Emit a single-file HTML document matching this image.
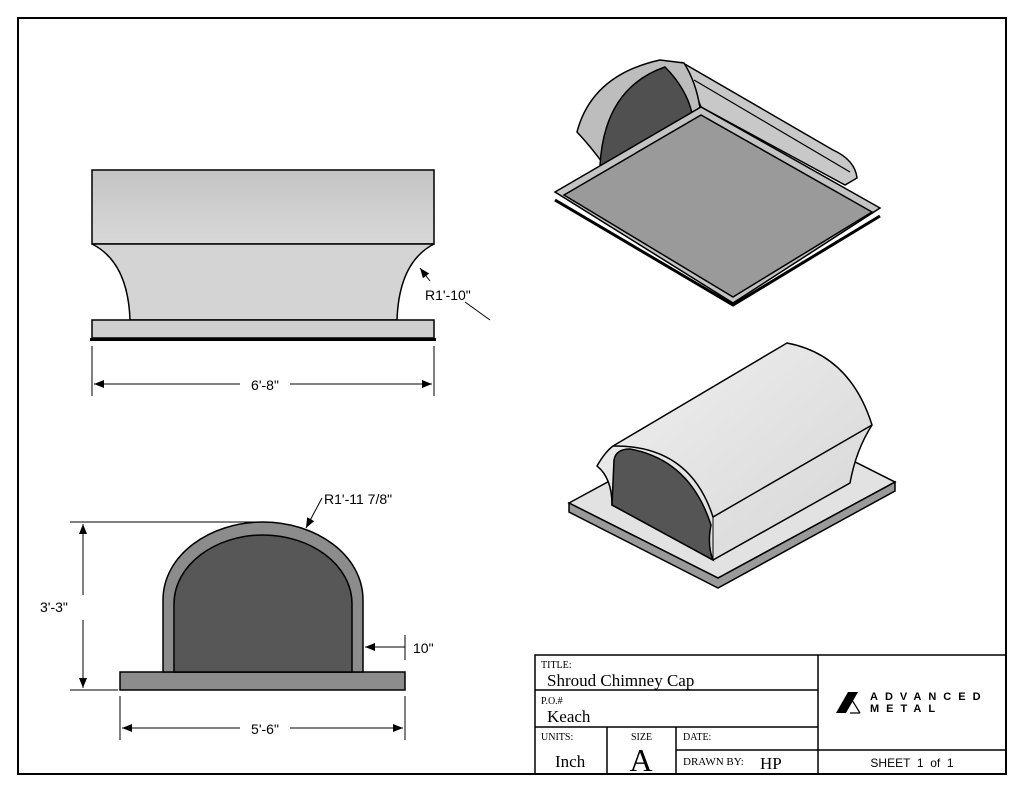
<!DOCTYPE html>
<html><head><meta charset="utf-8"><style>
body{margin:0;background:#fff}
svg{display:block}
text{font-family:"Liberation Sans",sans-serif}
.s{font-family:"Liberation Serif",serif}
</style></head><body>
<svg width="1024" height="794" viewBox="0 0 1024 794" xmlns="http://www.w3.org/2000/svg">
<defs>
<linearGradient id="g1" x1="0" y1="0" x2="0" y2="1"><stop offset="0" stop-color="#c4c4c4"/><stop offset="1" stop-color="#d8d8d8"/></linearGradient>
<linearGradient id="g2" x1="0" y1="0" x2="1" y2="1"><stop offset="0" stop-color="#f0f0f0"/><stop offset="1" stop-color="#d6d6d6"/></linearGradient>
<marker id="a" markerWidth="10" markerHeight="8" refX="10" refY="4" orient="auto" markerUnits="userSpaceOnUse"><path d="M0,0 L10,4 L0,8 z" fill="#000"/></marker>
<marker id="b" markerWidth="10" markerHeight="8" refX="0" refY="4" orient="auto" markerUnits="userSpaceOnUse"><path d="M10,0 L0,4 L10,8 z" fill="#000"/></marker>
</defs>
<rect x="18" y="18" width="988" height="756" fill="none" stroke="#000" stroke-width="2"/>

<!-- Front view -->
<rect x="92" y="170" width="342" height="74" fill="url(#g1)" stroke="#000" stroke-width="1.5"/>
<path d="M92,244 Q128,262 130,320 L397,320 Q399,262 434,244 Z" fill="#d4d4d4" stroke="#000" stroke-width="1.5"/>
<rect x="92" y="320" width="342" height="18" fill="#cfcfcf" stroke="#000" stroke-width="1.5"/>
<rect x="90" y="338" width="346" height="3" fill="#000"/>
<line x1="92" y1="346" x2="92" y2="396" stroke="#000"/>
<line x1="434" y1="346" x2="434" y2="396" stroke="#000"/>
<line x1="94" y1="384" x2="240" y2="384" stroke="#000" marker-start="url(#b)"/>
<line x1="290" y1="384" x2="432" y2="384" stroke="#000" marker-end="url(#a)"/>
<text x="265" y="390" font-size="14" text-anchor="middle">6'-8"</text>
<line x1="490" y1="320" x2="465" y2="302" stroke="#000"/>
<line x1="430" y1="281" x2="420" y2="268" stroke="#000" marker-end="url(#a)"/>
<text x="425" y="300" font-size="14">R1'-10"</text>

<!-- Side view -->
<rect x="120" y="672" width="285" height="18" fill="#8c8c8c" stroke="#000" stroke-width="1.5"/>
<path d="M163,672 L163,600 C163,555 210,522 263,522 C316,522 363,555 363,600 L363,672 Z" fill="#8c8c8c" stroke="#000" stroke-width="1.5"/>
<path d="M174,672 L174,604 C174,565 215,535 263,535 C311,535 352,565 352,604 L352,672 Z" fill="#575757" stroke="#000" stroke-width="1.5"/>
<line x1="70" y1="522" x2="262" y2="522" stroke="#000"/>
<line x1="70" y1="690" x2="118" y2="690" stroke="#000"/>
<line x1="83" y1="524" x2="83" y2="595" stroke="#000" marker-start="url(#b)"/>
<line x1="83" y1="620" x2="83" y2="688" stroke="#000" marker-end="url(#a)"/>
<text x="40" y="612" font-size="14">3'-3"</text>
<line x1="120" y1="696" x2="120" y2="740" stroke="#000"/>
<line x1="405" y1="696" x2="405" y2="740" stroke="#000"/>
<line x1="122" y1="728" x2="240" y2="728" stroke="#000" marker-start="url(#b)"/>
<line x1="290" y1="728" x2="403" y2="728" stroke="#000" marker-end="url(#a)"/>
<text x="265" y="734" font-size="14" text-anchor="middle">5'-6"</text>
<line x1="405" y1="635" x2="405" y2="660" stroke="#000"/>
<line x1="405" y1="647" x2="365" y2="647" stroke="#000" marker-end="url(#a)"/>
<text x="413" y="653" font-size="14">10"</text>
<line x1="322" y1="498" x2="306" y2="528" stroke="#000" marker-end="url(#a)"/>
<text x="324" y="504" font-size="14">R1'-11 7/8"</text>

<!-- Top iso -->
<path d="M683,63 L833,150 Q855,160 857,178 L845,185 L701,107 Z" fill="#c8c8c8" stroke="#000" stroke-width="1.5"/>
<line x1="694" y1="80" x2="850" y2="172" stroke="#000" stroke-width="1.2"/>
<path d="M577,132 Q592,75 660,60 L684,63 Q696,82 700,108 L604,165 Q592,148 577,132 Z" fill="#bdbdbd" stroke="#000" stroke-width="1.5"/>
<path d="M600,166 Q604,88 665,67 Q686,88 692,113 Z" fill="#505050" stroke="#000" stroke-width="1.5"/>
<path d="M555,192 L701,107 L880,208 L733,303 Z" fill="#c4c4c4" stroke="#000" stroke-width="1.5"/>
<path d="M564,195 L701,115 L872,212 L733,297 Z" fill="#9a9a9a" stroke="#000" stroke-width="1.5"/>
<path d="M555,200 L733,305 L880,216" fill="none" stroke="#000" stroke-width="3"/>

<!-- Bottom iso -->
<path d="M569,503 L746,407 L895,482 L718,578 Z" fill="#e2e2e2" stroke="#000" stroke-width="1.5"/>
<path d="M569,503 L569,512 L718,588 L895,491 L895,482 L718,578 Z" fill="#9a9a9a" stroke="#000" stroke-width="1.5"/>
<path d="M597,466 Q605,452 613,446 L787,343 Q850,355 872,425 Q856,450 850,483 L713,560 L612,505 Q612,478 597,466 Z" fill="url(#g2)" stroke="#000" stroke-width="1.5"/>
<path d="M613,446 Q690,445 713,517 L872,425" fill="none" stroke="#000" stroke-width="1.5"/>
<path d="M612,505 L614,460 Q616,449 630,449 Q690,460 711,525 Q707,545 713,560 Z" fill="#555" stroke="#000" stroke-width="1.5"/>
<path d="M713,517 L713,560" stroke="#000" stroke-width="1"/>

<!-- Title block -->
<g stroke="#000" stroke-width="1.5" fill="none">
<rect x="535" y="655" width="471" height="119"/>
<line x1="818" y1="655" x2="818" y2="774"/>
<line x1="535" y1="690" x2="818" y2="690"/>
<line x1="535" y1="727" x2="818" y2="727"/>
<line x1="676" y1="750" x2="1006" y2="750"/>
<line x1="607" y1="727" x2="607" y2="774"/>
<line x1="676" y1="727" x2="676" y2="774"/>
</g>
<text class="s" x="541" y="668" font-size="10">TITLE:</text>
<text class="s" x="547" y="686" font-size="17">Shroud Chimney Cap</text>
<text class="s" x="541" y="704" font-size="10">P.O.#</text>
<text class="s" x="547" y="722" font-size="17">Keach</text>
<text class="s" x="541" y="740" font-size="10">UNITS:</text>
<text class="s" x="555" y="767" font-size="17">Inch</text>
<text class="s" x="631" y="740" font-size="10">SIZE</text>
<text class="s" x="641" y="771" font-size="32" text-anchor="middle">A</text>
<text class="s" x="683" y="740" font-size="10">DATE:</text>
<text class="s" x="683" y="765" font-size="11">DRAWN BY:</text>
<text class="s" x="760" y="769" font-size="17">HP</text>
<text x="912" y="767" font-size="12" text-anchor="middle" xml:space="preserve">SHEET  1  of  1</text>
<path d="M836,713 L848,692 L858,692 L846,713 Z" fill="#000"/>
<path d="M852,700 L860,713 M850,713 L860,713" stroke="#000" fill="none" stroke-width="1.2"/>
<text x="870" y="700" font-size="11" font-weight="bold" letter-spacing="7">ADVANCED</text>
<text x="870" y="712" font-size="11" font-weight="bold" letter-spacing="7">METAL</text>
</svg>
</body></html>
